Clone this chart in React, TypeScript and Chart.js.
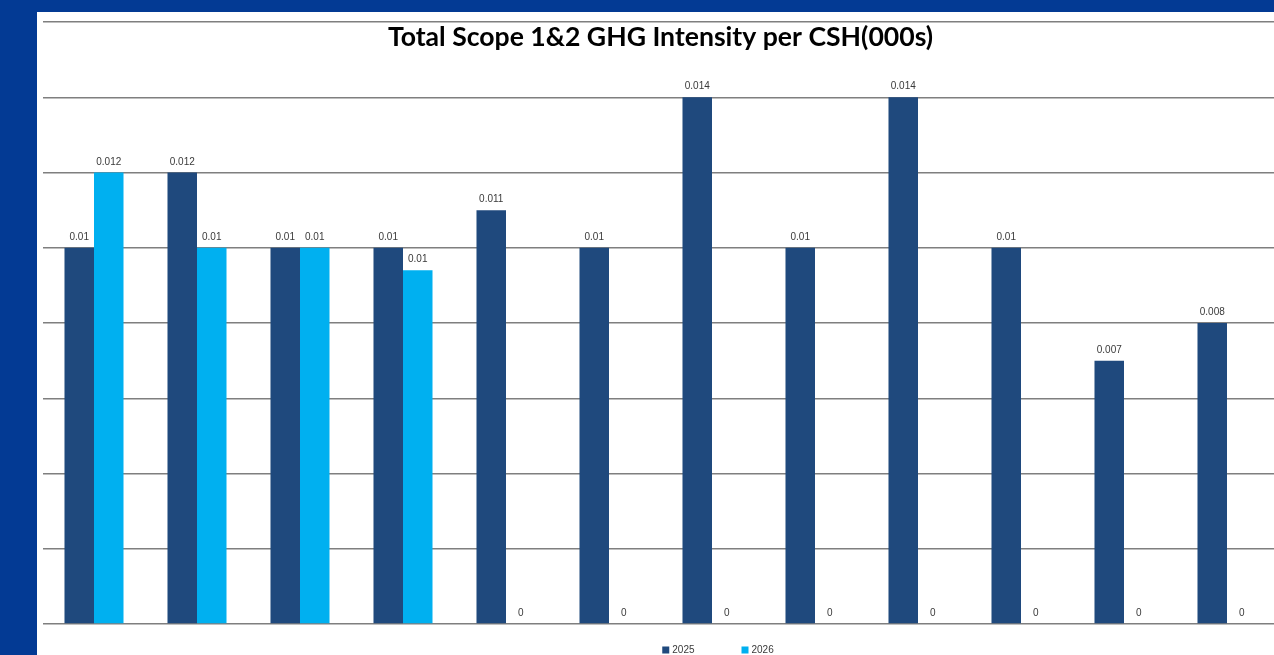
import React, { useEffect, useRef } from 'react';
import { Chart, registerables } from 'chart.js';

Chart.register(...registerables);

const chartTitle = 'Total Scope 1&2 GHG Intensity per CSH(000s)';
const categories = ['1', '2', '3', '4', '5', '6', '7', '8', '9', '10', '11', '12'];
const seriesNames = ['2025', '2026'];
const series2025 = [0.01, 0.012, 0.01, 0.01, 0.011, 0.01, 0.014, 0.01, 0.014, 0.01, 0.007, 0.008];
const series2026 = [0.012, 0.01, 0.01, 0.0094, 0, 0, 0, 0, 0, 0, 0, 0];
const labels2025 = ['0.01', '0.012', '0.01', '0.01', '0.011', '0.01', '0.014', '0.01', '0.014', '0.01', '0.007', '0.008'];
const labels2026 = ['0.012', '0.01', '0.01', '0.01', '0', '0', '0', '0', '0', '0', '0', '0'];
const yMin = 0;
const yMax = 0.016;
const yStep = 0.002;

const seriesColors = ['#1F497D', '#00B0F0'];
const valueLabels = [labels2025, labels2026];

const overlayPlugin = {
  id: 'overlay',
  afterDatasetsDraw(chart: any) {
    const ctx = chart.ctx;
    ctx.save();
    ctx.font = '10px "Liberation Sans", Arial, sans-serif';
    ctx.fillStyle = '#3a3a3a';
    ctx.textAlign = 'center';
    ctx.textBaseline = 'alphabetic';
    chart.data.datasets.forEach((ds: any, di: number) => {
      const meta = chart.getDatasetMeta(di);
      meta.data.forEach((el: any, i: number) => {
        ctx.fillText(valueLabels[di][i], el.x, el.y - 8);
      });
    });
    ctx.restore();
  },
  afterDraw(chart: any) {
    const ctx = chart.ctx;
    const area = chart.chartArea;
    ctx.save();
    // title
    ctx.font = 'bold 26.6px Lato, "Liberation Sans", sans-serif';
    ctx.fillStyle = '#000000';
    ctx.textAlign = 'center';
    ctx.textBaseline = 'alphabetic';
    ctx.fillText(chartTitle, (area.left + area.right) / 2, area.top + 24);
    // legend
    ctx.font = '10px "Liberation Sans", Arial, sans-serif';
    const box = 7;
    const gapBox = 3;
    const gapItems = 47;
    const widths = chart.data.datasets.map((ds: any) => box + gapBox + ctx.measureText(ds.label).width);
    const total = widths.reduce((a: number, b: number) => a + b, 0) + gapItems * (widths.length - 1);
    let x = chart.width / 2 - total / 2;
    const cy = area.bottom + 26;
    ctx.textAlign = 'left';
    ctx.textBaseline = 'middle';
    chart.data.datasets.forEach((ds: any, di: number) => {
      ctx.fillStyle = ds.backgroundColor;
      ctx.fillRect(x, cy - box / 2, box, box);
      ctx.fillStyle = '#3a3a3a';
      ctx.fillText(ds.label, x + box + gapBox, cy + 0.5);
      x += widths[di] + gapItems;
    });
    ctx.restore();
  },
};

export default function App() {
  const canvasRef = useRef<HTMLCanvasElement | null>(null);

  useEffect(() => {
    const canvas = canvasRef.current;
    if (!canvas) return;
    const chart = new Chart(canvas, {
      type: 'bar',
      data: {
        labels: categories,
        datasets: [
          {
            label: seriesNames[0],
            data: series2025,
            backgroundColor: seriesColors[0],
            barPercentage: 1,
            categoryPercentage: 0.573,
          },
          {
            label: seriesNames[1],
            data: series2026,
            backgroundColor: seriesColors[1],
            barPercentage: 1,
            categoryPercentage: 0.573,
          },
        ],
      },
      options: {
        responsive: false,
        animation: false,
        devicePixelRatio: 1,
        layout: { padding: { left: 5.5, right: 120.5, top: 10, bottom: 31 } },
        plugins: {
          legend: { display: false },
          title: { display: false },
          tooltip: { enabled: false },
        },
        scales: {
          x: {
            ticks: { display: false },
            grid: { display: false, drawTicks: false },
            border: { display: false },
          },
          y: {
            min: yMin,
            max: yMax,
            ticks: { display: false, stepSize: yStep },
            grid: { color: '#7f7f7f', lineWidth: 1.5, drawTicks: false, tickLength: 0 },
            border: { display: false },
          },
        },
      },
      plugins: [overlayPlugin],
    });
    return () => chart.destroy();
  }, []);

  return (
    <div style={{ position: 'fixed', inset: 0, background: '#033A94', overflow: 'hidden' }}>
      <div
        style={{
          position: 'absolute',
          left: 37,
          top: 12,
          right: 0,
          bottom: 0,
          background: '#ffffff',
          overflow: 'hidden',
        }}
      >
        <canvas ref={canvasRef} width={1362} height={643} style={{ display: 'block' }} />
      </div>
    </div>
  );
}
